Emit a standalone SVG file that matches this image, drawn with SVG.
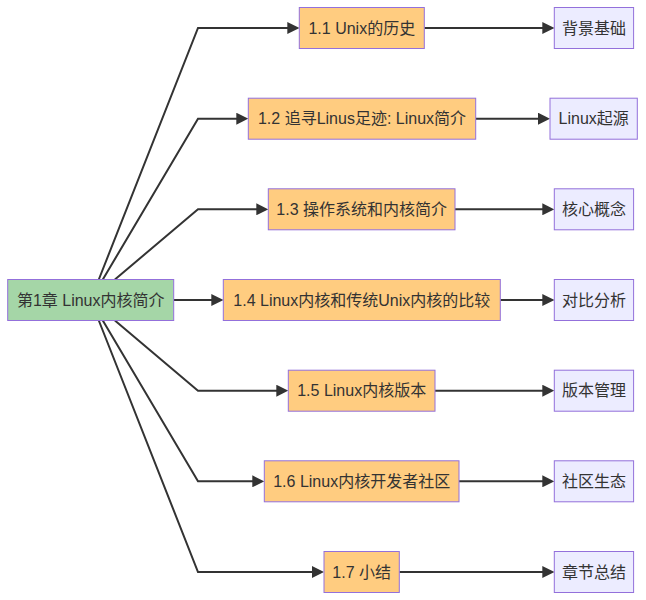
<svg xmlns="http://www.w3.org/2000/svg" width="646" height="600" viewBox="0 0 646 600">
<style>
.bg{fill:#ffffff}
.node rect{stroke:#9370DB;stroke-width:1}
.root rect{fill:#A5D6A7}
.sec rect{fill:#FFCC80}
.leaf rect{fill:#ECECFF}
.node text{font-family:"Liberation Sans","Noto Sans CJK SC",sans-serif;font-size:16px;fill:#333333;text-anchor:middle}
.links path{fill:none;stroke:#333333;stroke-width:2}
</style>
<defs>
<marker id="arrow" markerUnits="userSpaceOnUse" markerWidth="12" markerHeight="12" viewBox="0 0 12 12" refX="8" refY="6" orient="auto">
<path d="M0,0 L12,6 L0,12 z" fill="#333333"/>
</marker>
</defs>
<rect class="bg" x="0" y="0" width="646" height="600"/>
<g class="links">
<path d="M98.8,279.5 L198,28 L295.3,28" marker-end="url(#arrow)"/>
<path d="M102.8,279.5 L198,118.7 L244.3,118.7" marker-end="url(#arrow)"/>
<path d="M114.9,279.5 L198,209.3 L264.3,209.3" marker-end="url(#arrow)"/>
<path d="M173.7,300 L219.3,300" marker-end="url(#arrow)"/>
<path d="M114.9,320.5 L198,390.7 L284.3,390.7" marker-end="url(#arrow)"/>
<path d="M102.8,320.5 L198,481.3 L260.3,481.3" marker-end="url(#arrow)"/>
<path d="M98.8,320.5 L198,572 L320,572" marker-end="url(#arrow)"/>
<path d="M424.3,28 L550.3,28" marker-end="url(#arrow)"/>
<path d="M475.7,118.7 L546,118.7" marker-end="url(#arrow)"/>
<path d="M455,209.3 L550.3,209.3" marker-end="url(#arrow)"/>
<path d="M500.3,300 L550.3,300" marker-end="url(#arrow)"/>
<path d="M435,390.7 L550.3,390.7" marker-end="url(#arrow)"/>
<path d="M459,481.3 L550.3,481.3" marker-end="url(#arrow)"/>
<path d="M399.3,572 L550.3,572" marker-end="url(#arrow)"/>
</g>
<g id="root" class="node root">
<rect x="7.7" y="279.5" width="166" height="41"/>
<text x="90.7" y="305.5">第1章 Linux内核简介</text>
</g>
<g id="s11" class="node sec">
<rect x="299.3" y="7.5" width="125" height="41"/>
<text x="361.8" y="33.5">1.1 Unix的历史</text>
</g>
<g id="s12" class="node sec">
<rect x="248.3" y="98.2" width="227.4" height="41"/>
<text x="362" y="124.2">1.2 追寻Linus足迹: Linux简介</text>
</g>
<g id="s13" class="node sec">
<rect x="268.3" y="188.8" width="186.7" height="41"/>
<text x="361.7" y="214.8">1.3 操作系统和内核简介</text>
</g>
<g id="s14" class="node sec">
<rect x="223.3" y="279.5" width="277" height="41"/>
<text x="361.8" y="305.5">1.4 Linux内核和传统Unix内核的比较</text>
</g>
<g id="s15" class="node sec">
<rect x="288.3" y="370.2" width="146.7" height="41"/>
<text x="361.7" y="396.2">1.5 Linux内核版本</text>
</g>
<g id="s16" class="node sec">
<rect x="264.3" y="460.8" width="194.7" height="41"/>
<text x="361.7" y="486.8">1.6 Linux内核开发者社区</text>
</g>
<g id="s17" class="node sec">
<rect x="324" y="551.5" width="75.3" height="41"/>
<text x="361.7" y="577.5">1.7 小结</text>
</g>
<g id="l1" class="node leaf">
<rect x="554.3" y="7.5" width="79.3" height="41"/>
<text x="594" y="33.5">背景基础</text>
</g>
<g id="l2" class="node leaf">
<rect x="550" y="98.2" width="87.3" height="41"/>
<text x="593.7" y="124.2">Linux起源</text>
</g>
<g id="l3" class="node leaf">
<rect x="554.3" y="188.8" width="79.3" height="41"/>
<text x="594" y="214.8">核心概念</text>
</g>
<g id="l4" class="node leaf">
<rect x="554.3" y="279.5" width="79.3" height="41"/>
<text x="594" y="305.5">对比分析</text>
</g>
<g id="l5" class="node leaf">
<rect x="554.3" y="370.2" width="79.3" height="41"/>
<text x="594" y="396.2">版本管理</text>
</g>
<g id="l6" class="node leaf">
<rect x="554.3" y="460.8" width="79.3" height="41"/>
<text x="594" y="486.8">社区生态</text>
</g>
<g id="l7" class="node leaf">
<rect x="554.3" y="551.5" width="79.3" height="41"/>
<text x="594" y="577.5">章节总结</text>
</g>
</svg>
